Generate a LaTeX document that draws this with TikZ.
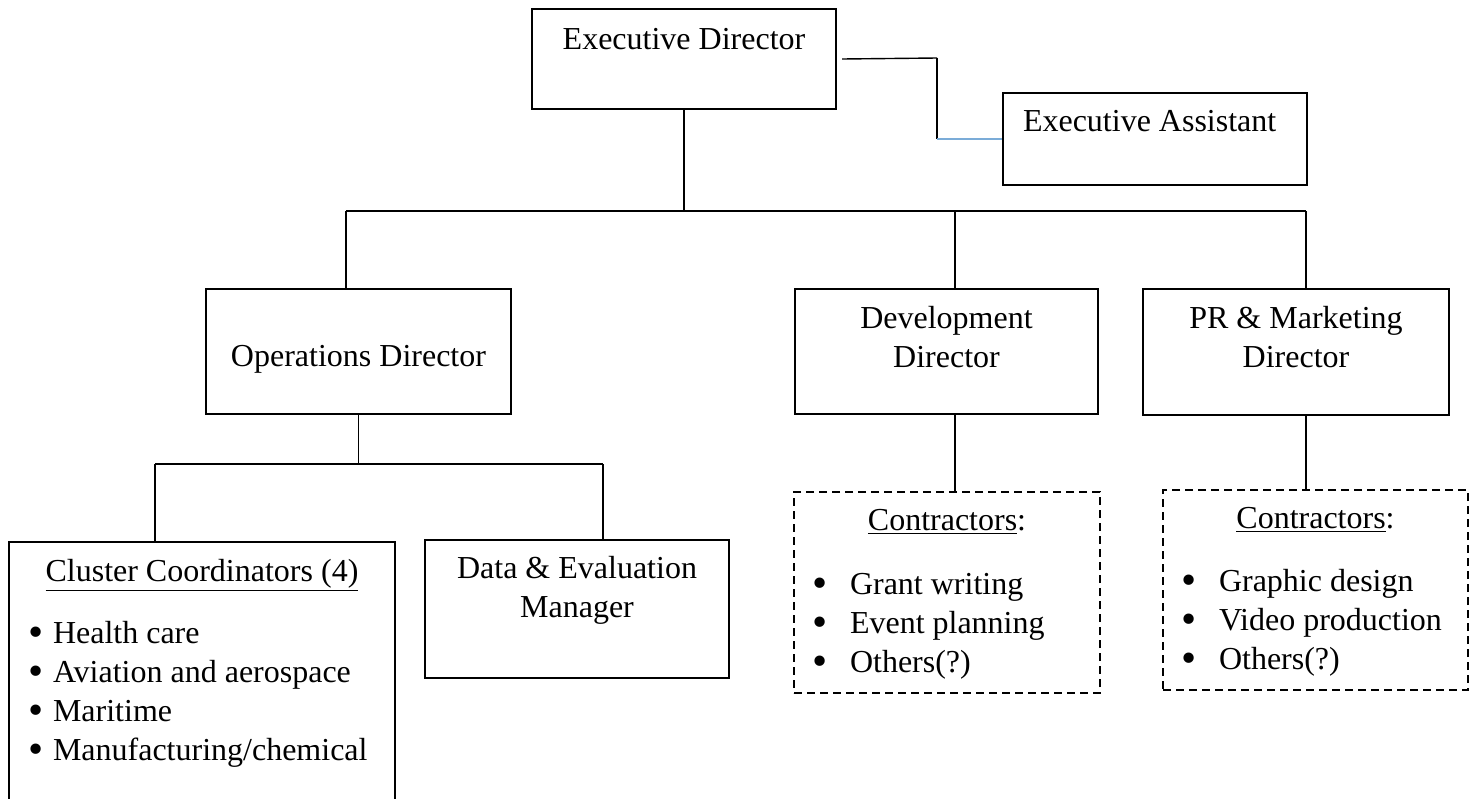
\documentclass[tikz,border=0pt]{standalone}
\usepackage{fontspec}
\setmainfont{Liberation Serif}
\usepackage{graphicx}
\usepackage{tikz}
\definecolor{eablue}{RGB}{123,172,216}
\tikzstyle{post} = [rectangle, draw=black, line width=1pt, inner xsep=0pt, inner ysep=0pt, anchor=north]
\tikzstyle{contract} = [post, dash pattern=on 4pt off 2.5pt, inner xsep=10pt]
\tikzstyle{line} = [line width=0.7pt]
\newcommand{\toplines}[1]{\begin{tabular}[t]{@{}c@{}}#1\end{tabular}}
\newcommand{\bul}[2]{\makebox[#1][l]{\hspace{-0.8pt}\raisebox{-1.6pt}{\scalebox{1.35}{\textbullet}}}#2}
\begin{document}
\begin{tikzpicture}[x=0.5pt, y=-0.5pt, font=\fontsize{16}{19.5}\selectfont]
\useasboundingbox (0,0) rectangle (1476,798);
\clip (0,0) rectangle (1476,798);
\node(1)[post, minimum width=152pt, text height=20pt, text depth=30pt] at (684,8) {Executive Director};
\node(2)[post, inner xsep=10pt, text height=19pt, text depth=27pt] at (1155,92) {\makebox[132pt][l]{Executive Assistant}};
\node(3)[post, minimum width=152.5pt, text height=38.5pt, text depth=24pt] at (358.5,288) {Operations Director};
\node(4)[post, minimum width=151.5pt, text height=19.5pt, text depth=43pt] at (946.5,288) {\toplines{Development\\Director}};
\node(5)[post, minimum width=153pt, text height=19.5pt, text depth=43.5pt] at (1296,288) {\toplines{PR \& Marketing\\Director}};
\node(6)[post, inner xsep=10.5pt, text height=19.5pt, text depth=115pt] at (202,541) {\parbox[t]{172pt}{\centering\underline{Cluster Coordinators (4)}\par\vspace{11.5pt}\raggedright
  \bul{11.5pt}{Health care}\\ \bul{11.5pt}{Aviation and aerospace}\\ \bul{11.5pt}{Maritime}\\ \bul{11.5pt}{Manufacturing/chemical}}};
\node(7)[post, minimum width=152pt, text height=19pt, text depth=50pt] at (577,539) {\toplines{Data \& Evaluation\\Manager}};
\node(8)[contract, text height=19pt, text depth=81.5pt] at (947,491) {\parbox[t]{133pt}{\centering\underline{Contractors}:\par\vspace{12.5pt}\raggedright
  \bul{18pt}{Grant writing}\\ \bul{18pt}{Event planning}\\ \bul{18pt}{Others(?)}}};
\node(9)[contract, text height=19pt, text depth=81pt] at (1315.5,489) {\parbox[t]{132.5pt}{\centering\underline{Contractors}:\par\vspace{12pt}\raggedright
  \bul{18pt}{Graphic design}\\ \bul{18pt}{Video production}\\ \bul{18pt}{Others(?)}}};
\coordinate (a) at (346,211);
\coordinate (b) at (1306,211);
\coordinate (c) at (955,211);
\coordinate (d) at (155,464);
\coordinate (e) at (603,464);
\coordinate (f) at (937,58);
\draw[line](1.south) -- (1.south |- a);
\draw[line](a) -- (b);
\draw[line](a) -- (a |- 3.north);
\draw[line](c) -- (c |- 4.north);
\draw[line](b) -- (b |- 5.north);
\draw[line](4.south -| c) -- (c |- 8.north);
\draw[line](5.south -| b) -- (b |- 9.north);
\draw[line](3.south) -- (3.south |- d);
\draw[line](d) -- (e);
\draw[line](d) -- (d |- 6.north);
\draw[line](e) -- (e |- 7.north);
\draw[line]([xshift=2.5pt]1.east) -- (f);
\draw[line, line width=1.3pt](f) -- (f |- 2.west);
\draw[line, eablue](f |- 2.west) -- (2.west);
\end{tikzpicture}
\end{document}
